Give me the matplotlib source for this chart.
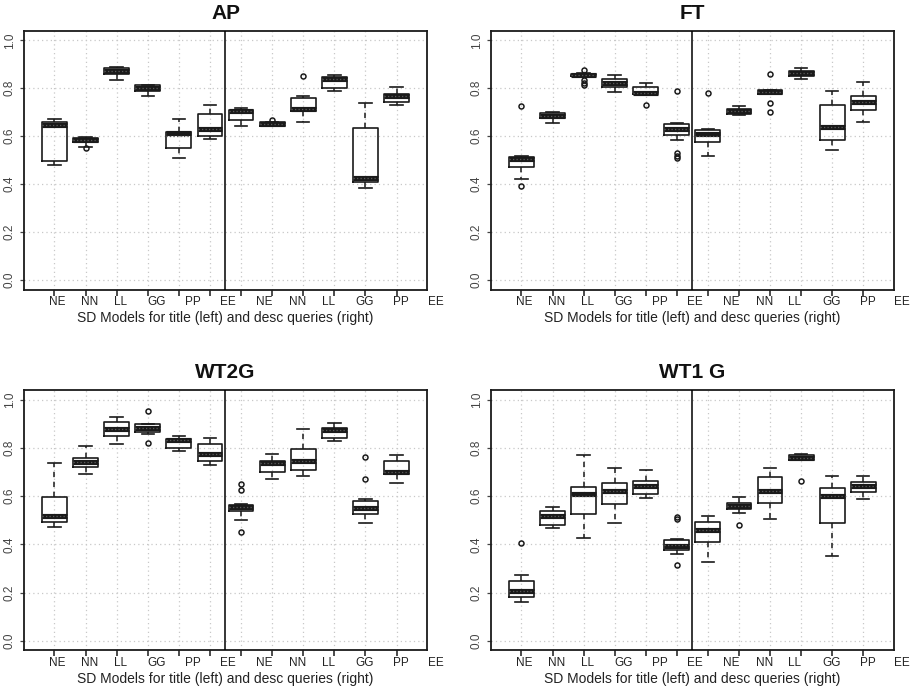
import matplotlib
matplotlib.use("Agg")
import matplotlib.pyplot as plt
import numpy as np

plt.rcParams['font.family'] = ['Liberation Sans', 'DejaVu Sans']

categories = ["NE", "NN", "LL", "GG", "PP", "EE", "NE", "NN", "LL", "GG", "PP", "EE"]
xlabel_text = "SD Models for title (left) and desc queries (right)"
titles = ["AP", "FT", "WT2G", "WT1 G"]

# ---- AP ----
ap_med = [0.648, 0.585, 0.874, 0.803, 0.612, 0.629, 0.704, 0.650, 0.715, 0.837, 0.425, 0.769]
ap_q1 = [0.495, 0.575, 0.858, 0.790, 0.550, 0.600, 0.668, 0.642, 0.706, 0.800, 0.408, 0.744]
ap_q3 = [0.660, 0.594, 0.885, 0.813, 0.617, 0.694, 0.711, 0.658, 0.761, 0.847, 0.633, 0.776]
ap_wlo = [0.480, 0.557, 0.833, 0.768, 0.510, 0.588, 0.643, 0.642, 0.660, 0.790, 0.382, 0.732]
ap_whi = [0.670, 0.598, 0.888, 0.815, 0.671, 0.730, 0.718, 0.658, 0.769, 0.856, 0.738, 0.807]
ap_fliers = [[], [0.551], [], [], [], [], [], [0.667], [0.850], [], [], []]
ap_mean = [0.648, 0.585, 0.874, 0.803, 0.599, 0.629, 0.704, 0.650, 0.715, 0.837, 0.425, 0.769]

# ---- FT ----
ft_med = [0.504, 0.686, 0.856, 0.822, 0.782, 0.632, 0.610, 0.704, 0.786, 0.864, 0.640, 0.741]
ft_q1 = [0.470, 0.674, 0.850, 0.806, 0.774, 0.606, 0.574, 0.694, 0.778, 0.853, 0.586, 0.708]
ft_q3 = [0.513, 0.697, 0.861, 0.838, 0.806, 0.651, 0.624, 0.714, 0.794, 0.872, 0.729, 0.769]
ft_wlo = [0.422, 0.656, 0.847, 0.783, 0.771, 0.585, 0.518, 0.688, 0.778, 0.838, 0.542, 0.661]
ft_whi = [0.519, 0.701, 0.865, 0.854, 0.822, 0.657, 0.631, 0.726, 0.794, 0.885, 0.789, 0.828]
ft_fliers = [[0.725, 0.393], [], [0.875, 0.833, 0.822, 0.812], [], [0.732],
             [0.788, 0.530, 0.519, 0.511], [0.780], [], [0.861, 0.739, 0.700], [], [], []]
ft_mean = [0.504, 0.686, 0.856, 0.822, 0.782, 0.632, 0.600, 0.704, 0.786, 0.864, 0.640, 0.741]

# ---- WT2G ----
wt2g_med = [0.516, 0.741, 0.879, 0.882, 0.832, 0.776, 0.554, 0.738, 0.748, 0.874, 0.553, 0.702]
wt2g_q1 = [0.495, 0.720, 0.852, 0.868, 0.802, 0.745, 0.537, 0.702, 0.708, 0.843, 0.528, 0.691]
wt2g_q3 = [0.597, 0.758, 0.910, 0.899, 0.839, 0.817, 0.564, 0.745, 0.796, 0.882, 0.580, 0.748]
wt2g_wlo = [0.472, 0.694, 0.817, 0.860, 0.789, 0.730, 0.500, 0.673, 0.684, 0.828, 0.490, 0.654]
wt2g_whi = [0.740, 0.810, 0.929, 0.902, 0.849, 0.842, 0.568, 0.776, 0.878, 0.906, 0.588, 0.771]
wt2g_fliers = [[], [], [], [0.956, 0.821], [], [], [0.651, 0.625, 0.451], [], [], [],
               [0.764, 0.673], []]
wt2g_mean = [0.516, 0.741, 0.879, 0.882, 0.832, 0.776, 0.554, 0.738, 0.748, 0.874, 0.553, 0.702]

# ---- WT1G ----
wt1g_med = [0.208, 0.518, 0.608, 0.623, 0.643, 0.392, 0.458, 0.559, 0.621, 0.760, 0.600, 0.643]
wt1g_q1 = [0.181, 0.482, 0.525, 0.568, 0.609, 0.378, 0.411, 0.546, 0.572, 0.752, 0.490, 0.617]
wt1g_q3 = [0.246, 0.539, 0.637, 0.655, 0.663, 0.418, 0.492, 0.572, 0.679, 0.770, 0.633, 0.661]
wt1g_wlo = [0.162, 0.468, 0.428, 0.488, 0.591, 0.359, 0.328, 0.529, 0.504, 0.752, 0.351, 0.590]
wt1g_whi = [0.274, 0.554, 0.770, 0.717, 0.711, 0.422, 0.519, 0.597, 0.719, 0.777, 0.683, 0.682]
wt1g_fliers = [[0.404], [], [], [], [], [0.514, 0.506, 0.315], [], [0.481], [], [0.665], [], []]
wt1g_mean = [0.208, 0.518, 0.600, 0.623, 0.643, 0.399, 0.458, 0.559, 0.621, 0.760, 0.600, 0.643]

yticks = [0.0, 0.2, 0.4, 0.6, 0.8, 1.0]
ytick_labels = ["0.0", "0.2", "0.4", "0.6", "0.8", "1.0"]

panels = [
    (ap_med, ap_q1, ap_q3, ap_wlo, ap_whi, ap_fliers, ap_mean),
    (ft_med, ft_q1, ft_q3, ft_wlo, ft_whi, ft_fliers, ft_mean),
    (wt2g_med, wt2g_q1, wt2g_q3, wt2g_wlo, wt2g_whi, wt2g_fliers, wt2g_mean),
    (wt1g_med, wt1g_q1, wt1g_q3, wt1g_wlo, wt1g_whi, wt1g_fliers, wt1g_mean),
]

W, H = 912, 692
fig = plt.figure(figsize=(W / 100, H / 100), dpi=100)

# axes rectangles in pixels (left, top, right, bottom)
rects_px = [(24, 30.7, 427, 289.7), (491, 30.7, 893.7, 289.7),
            (24, 390.3, 427, 650.3), (491, 390.3, 893.7, 650.3)]
label_pos = [1.08, 2.12, 3.12, 4.28, 5.45, 6.58, 7.76, 8.82, 9.80, 10.98, 12.14, 13.25]

for (title, data, rp) in zip(titles, panels, rects_px):
    l, t, r, b = rp
    ax = fig.add_axes([l / W, 1 - b / H, (r - l) / W, (b - t) / H])
    med, q1, q3, wlo, whi, fl, mn = data
    positions = np.arange(1, len(categories) + 1)
    stats = []
    for i in range(len(categories)):
        stats.append(dict(med=med[i], q1=q1[i], q3=q3[i], whislo=wlo[i], whishi=whi[i],
                          fliers=np.array(fl[i]), mean=mn[i]))
    # grid
    for yv in yticks:
        ax.axhline(yv, color='#c8c8c8', lw=0.9, ls=(0, (1, 2.5)), zorder=0)
    for xv in positions:
        ax.axvline(xv, color='#c8c8c8', lw=0.9, ls=(0, (1, 2.5)), zorder=0)
    ax.bxp(stats, positions=positions, widths=0.8, showmeans=True, meanline=True,
           patch_artist=False,
           boxprops=dict(color='#1a1a1a', lw=1.2),
           medianprops=dict(color='#1a1a1a', lw=3.7, solid_capstyle='butt'),
           whiskerprops=dict(color='#1a1a1a', lw=1.1, ls=(0, (3.5, 3))),
           capprops=dict(color='#1a1a1a', lw=1.2),
           capwidths=0.4,
           meanprops=dict(color='#5a5a5a', lw=0.9, ls=(0, (1, 1.8))),
           flierprops=dict(marker='o', markerfacecolor='none', markeredgecolor='#1a1a1a',
                           markersize=3.6, markeredgewidth=1.1, linestyle='none'),
           zorder=3)
    ax.axvline(6.5, color='black', lw=1.1, zorder=4)
    ax.set_xlim(0.02, 12.98)
    ax.set_ylim(-0.04, 1.04)
    ax.set_xticks(positions)
    ax.set_xticklabels([''] * len(positions))
    ax.set_yticks(yticks)
    ax.set_yticklabels(ytick_labels, rotation=90, va='center', fontsize=8.5, color='#444444')
    ax.tick_params(axis='x', direction='out', length=4, width=1.1, color='#1a1a1a')
    ax.tick_params(axis='y', direction='out', length=3, width=0.9, color='#444444', pad=3)
    for sp in ax.spines.values():
        sp.set_linewidth(1.3)
        sp.set_color('#1a1a1a')
    trans = ax.get_xaxis_transform()
    hpx = b - t
    for lab, xp in zip(categories, label_pos):
        ax.text(xp, -12.3 / hpx, lab, transform=trans, ha='center', va='center',
                fontsize=8.5, color='#222222', clip_on=False)
    ax.text(0.5, -28.5 / hpx, xlabel_text, transform=ax.transAxes, ha='center',
            va='center', fontsize=10, color='#222222')
    ax.text(0.5, 1 + 17.5 / hpx, title, transform=ax.transAxes, ha='center',
            va='center', fontsize=15, fontweight='bold', color='#111111')

fig.savefig("out.png", dpi=100)
